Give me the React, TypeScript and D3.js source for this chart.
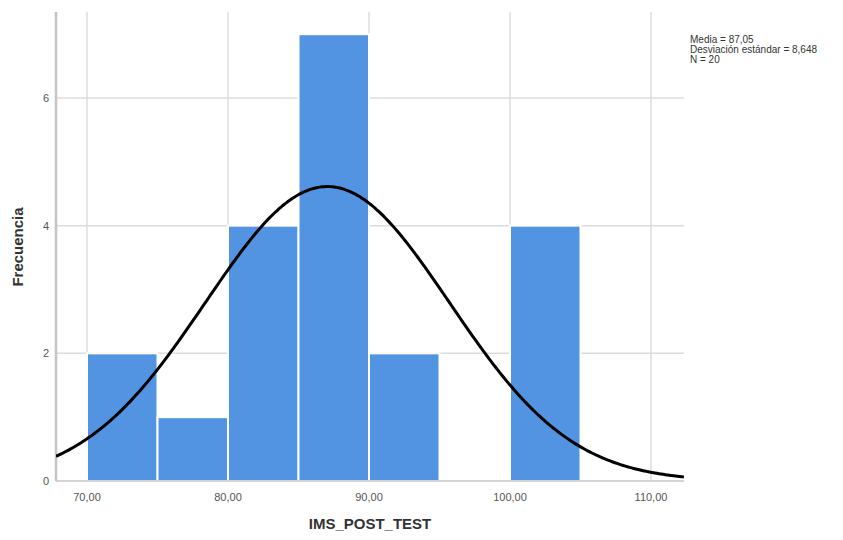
import React from "react";
import * as d3 from "d3";

const binStarts = [70, 75, 80, 85, 90, 95, 100];
const binWidth = 5;
const counts = [2, 1, 4, 7, 2, 0, 4];
const xTicks = [70, 80, 90, 100, 110];
const yTicks = [0, 2, 4, 6];
const mean = 87.05;
const sd = 8.648;
const n = 20;
const statLines = ["Media = 87,05", "Desviación estándar = 8,648", "N = 20"];

const W = 843, H = 540;
const left = 56, right = 684, top = 12, bottom = 481;

export default function App() {
  const x = d3.scaleLinear().domain([70, 110]).range([87, 651]);
  const y = d3.scaleLinear().domain([0, 6]).range([bottom, 98]);
  const xMin = x.invert(left), xMax = x.invert(right);
  const fmt = (v: number) => v.toFixed(2).replace(".", ",");
  const pdf = (v: number) =>
    (n * binWidth) / (sd * Math.sqrt(2 * Math.PI)) * Math.exp(-0.5 * ((v - mean) / sd) ** 2);
  const curvePts = d3.range(0, 301).map(i => xMin + (xMax - xMin) * i / 300);
  const line = d3.line<number>().x(v => x(v)).y(v => y(pdf(v))).curve(d3.curveBasis);
  const font = "'Liberation Sans', Arial, sans-serif";
  return (
    <svg width={W} height={H} style={{ position: "absolute", left: 0, top: 0 }} fontFamily={font}>
      <rect width={W} height={H} fill="#fff" />
      {xTicks.map(t => (
        <line key={"gx" + t} x1={x(t)} x2={x(t)} y1={top} y2={bottom} stroke="#dcdcdc" strokeWidth={1.5} />
      ))}
      {yTicks.filter(t => t > 0).map(t => (
        <line key={"gy" + t} x1={left} x2={right} y1={y(t)} y2={y(t)} stroke="#dcdcdc" strokeWidth={1.5} />
      ))}
      {binStarts.map((b, i) => counts[i] > 0 && (
        <rect key={"b" + b} x={x(b)} y={y(counts[i])} width={x(b + binWidth) - x(b)} height={bottom - y(counts[i])}
          fill="#5394e2" stroke="#fff" strokeWidth={2} />
      ))}
      <line x1={left} x2={right} y1={bottom} y2={bottom} stroke="#c4c4c4" strokeWidth={1.5} />
      <line x1={left} x2={left} y1={top} y2={bottom} stroke="#c4c4c4" strokeWidth={2.5} />
      <clipPath id="plotclip"><rect x={left} y={top} width={right - left} height={bottom - top} /></clipPath>
      <path d={line(curvePts) || ""} fill="none" stroke="#000" strokeWidth={3} clipPath="url(#plotclip)" />
      {xTicks.map(t => (
        <text key={"tx" + t} x={x(t)} y={501} textAnchor="middle" fontSize={11} fill="#555">{fmt(t)}</text>
      ))}
      {yTicks.map(t => (
        <text key={"ty" + t} x={49} y={y(t) + 4} textAnchor="end" fontSize={11} fill="#555">{t}</text>
      ))}
      <text x={370} y={529} textAnchor="middle" fontSize={15} fontWeight="bold" fill="#333">IMS_POST_TEST</text>
      <text transform="translate(23,247) rotate(-90)" textAnchor="middle" fontSize={15} fontWeight="bold" fill="#333">Frecuencia</text>
      {statLines.map((s, i) => (
        <text key={s} x={690} y={43 + i * 10} fontSize={10} fill="#333">{s}</text>
      ))}
    </svg>
  );
}
